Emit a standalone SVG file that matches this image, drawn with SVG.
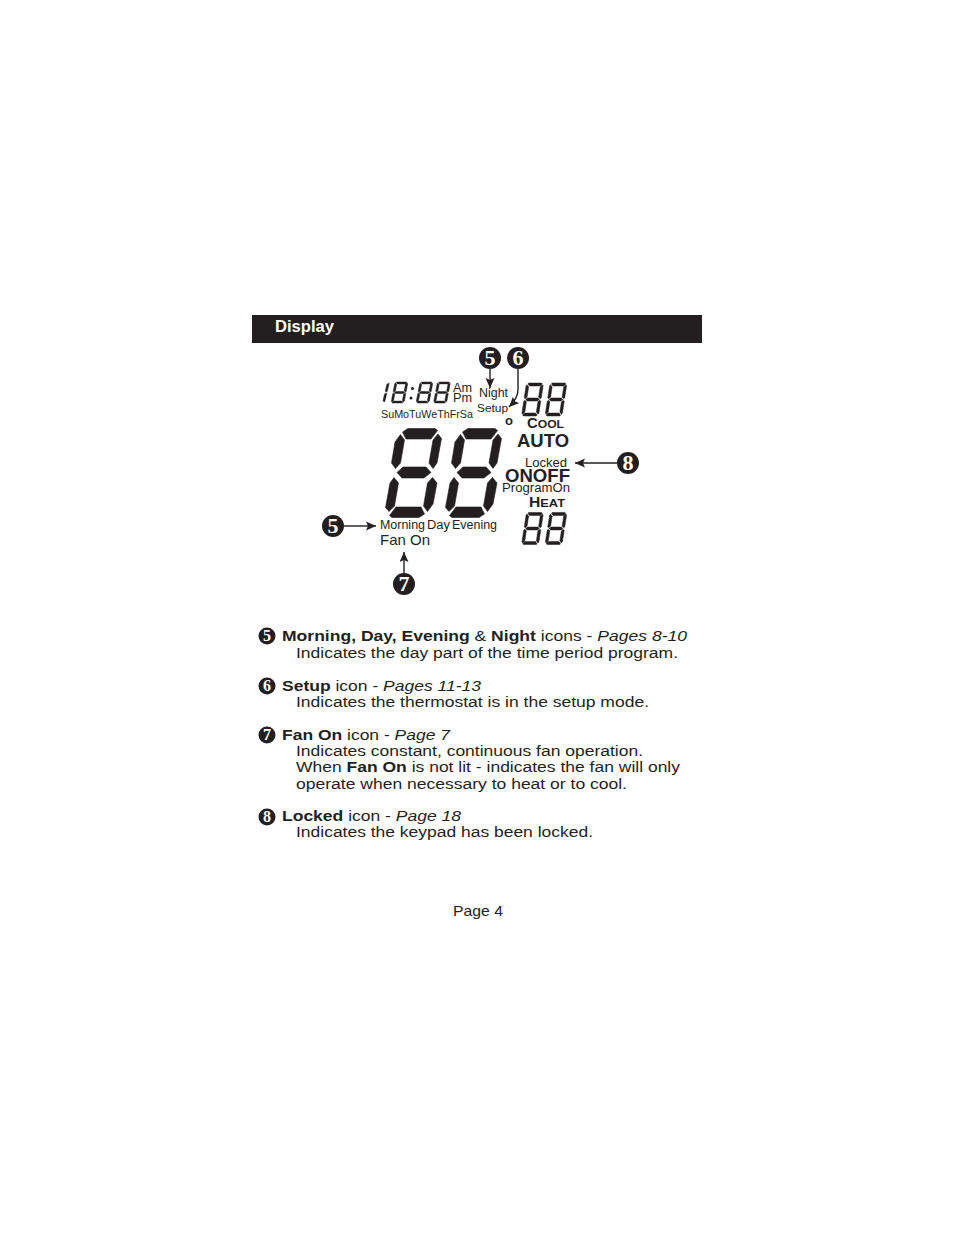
<svg xmlns="http://www.w3.org/2000/svg" xmlns:xlink="http://www.w3.org/1999/xlink" width="954" height="1235" viewBox="0 0 954 1235">
<style>
text{font-family:"Liberation Sans",Arial,sans-serif;fill:#231f20}
.body{font-size:15.200px}
.b{font-weight:bold}
.i{font-style:italic}
.lcd{font-size:12px}
.n{font-family:"Liberation Serif","Times New Roman",serif;fill:#fff;text-anchor:middle;font-weight:bold}
.big{font-size:22px}
.sm{font-size:16px}
.line{stroke:#231f20;stroke-width:1.4;fill:none;marker-end:url(#arrow)}
#thin polygon,#thin-one polygon{vector-effect:non-scaling-stroke;stroke:#231f20;stroke-width:.5}
</style>
<defs>
<marker id="arrow" markerUnits="userSpaceOnUse" markerWidth="12" markerHeight="10" refX="10" refY="4.5" orient="auto"><path d="M0 0L10 4.5L0 9L2 4.5Z" fill="#231f20"/></marker>
<g id="digit" fill="#231f20" stroke="#231f20" stroke-width=".6" stroke-linejoin="round">
<polygon points="408,428.500 435,428.500 437.500,430.500 431,439 406,439 402.500,432"/>
<polygon points="400.500,434.500 404.500,440 400.500,463 395.500,468.500 391.500,463 395,442"/>
<polygon points="438,434 441.500,438.500 437,463 433,468.500 429,463 433,440"/>
<polygon points="397,472.500 403,467 426,467 431,472.500 424,478 402,478"/>
<polygon points="389,511.500 385.500,507.500 390,483 394,477.500 398.500,483 394.500,506"/>
<polygon points="427.500,511.500 423.500,506 427.500,483 432.500,477.500 437,483 433,504"/>
<polygon points="419,517.500 392,517.500 389.500,515.500 396,507 421,507 424.500,514"/>
</g>
<g id="thin-one" fill="#231f20">
<polygon points="100,8 95,5 84,12 84,43 94,48 100,45"/>
<polygon points="100,55 94,52 84,57 84,88 95,95 100,92"/>
</g>
<g id="thin" fill="#231f20">
<use xlink:href="#thin-one"/>
<polygon points="12,0 88,0 94,3 84,9 20,9 10,3"/>
<polygon points="0,8 5,5 16,12 16,43 6,48 0,45"/>
<polygon points="10,50 20,45.500 80,45.500 90,50 80,54.500 20,54.500"/>
<polygon points="0,55 6,52 16,57 16,88 5,95 0,92"/>
<polygon points="6,97 16,91 80,91 90,97 88,100 12,100"/>
</g>
</defs>
<rect width="954" height="1235" fill="#fff"/>
<g id="header"><rect x="252" y="315" width="450" height="28" fill="#231f20"/>
<text x="275" y="332" class="b" style="font-size:16px;fill:#fff" textLength="59" lengthAdjust="spacingAndGlyphs">Display</text></g>
<g id="lcd-time">
<use xlink:href="#thin-one" transform="matrix(.13,0,-.05,.21,376.500,382)"/>
<use xlink:href="#thin" transform="matrix(.13,0,-.04,.21,395,382)"/>
<circle cx="412.500" cy="388.500" r="1.5" fill="#231f20"/><circle cx="411" cy="398" r="1.5" fill="#231f20"/>
<use xlink:href="#thin" transform="matrix(.13,0,-.04,.21,420,382)"/>
<use xlink:href="#thin" transform="matrix(.13,0,-.04,.21,437.500,382)"/>
<text x="453" y="392" class="lcd" textLength="19" lengthAdjust="spacingAndGlyphs">Am</text><text x="453" y="402" class="lcd" textLength="19" lengthAdjust="spacingAndGlyphs">Pm</text>
<text x="381" y="418" style="font-size:10.500px" textLength="92" lengthAdjust="spacingAndGlyphs">SuMoTuWeThFrSa</text>
</g>
<g id="lcd-top-right">
<use xlink:href="#thin" transform="matrix(.17,0,-.05,.33,526.500,383)"/>
<use xlink:href="#thin" transform="matrix(.17,0,-.05,.33,550,383)"/>
<text x="479" y="397" class="lcd" textLength="29" lengthAdjust="spacingAndGlyphs">Night</text>
<text x="477" y="412" style="font-size:11px" textLength="31" lengthAdjust="spacingAndGlyphs">Setup</text>
<text x="505" y="425" class="b" style="font-size:13px">o</text>
<text x="527" y="428" class="b" style="font-size:14px" textLength="37" lengthAdjust="spacingAndGlyphs">C<tspan style="font-size:11.500px">OOL</tspan></text>
<text x="517" y="447" class="b" style="font-size:18px" textLength="52" lengthAdjust="spacingAndGlyphs">AUTO</text>
<text x="525" y="467" class="lcd" textLength="42" lengthAdjust="spacingAndGlyphs">Locked</text>
<text x="505" y="482" class="b" style="font-size:18px" textLength="65" lengthAdjust="spacingAndGlyphs">ONOFF</text>
<text x="502" y="492" class="lcd" textLength="68" lengthAdjust="spacingAndGlyphs">ProgramOn</text>
<text x="529" y="507" class="b" style="font-size:14px" textLength="36" lengthAdjust="spacingAndGlyphs">H<tspan style="font-size:11.500px">EAT</tspan></text>
<use xlink:href="#thin" transform="matrix(.17,0,-.05,.32,526.500,512.500)"/>
<use xlink:href="#thin" transform="matrix(.17,0,-.05,.32,550,512.500)"/>
</g>
<g id="lcd-main">
<use xlink:href="#digit"/>
<use xlink:href="#digit" transform="translate(60 0)"/>
<text x="380" y="529" class="lcd" textLength="45" lengthAdjust="spacingAndGlyphs">Morning</text>
<text x="427" y="529" class="lcd" textLength="23" lengthAdjust="spacingAndGlyphs">Day</text>
<text x="452" y="529" class="lcd" textLength="45" lengthAdjust="spacingAndGlyphs">Evening</text>
<text x="380" y="545" style="font-size:14.500px" textLength="50" lengthAdjust="spacingAndGlyphs">Fan On</text>
</g>
<g id="connectors">
<path class="line" d="M490 369V388"/>
<path class="line" d="M518 369V390Q518 398 509 407"/>
<path class="line" d="M617 463H575"/>
<path class="line" d="M344 526H376"/>
<path class="line" d="M404 573V552"/>
</g>
<g id="callout-5a"><circle cx="490" cy="358" r="11" fill="#231f20"/><text x="490" y="365" class="n big">5</text></g>
<g id="callout-6"><circle cx="518" cy="358" r="11" fill="#231f20"/><text x="518" y="365" class="n big">6</text></g>
<g id="callout-8"><circle cx="628" cy="463" r="11" fill="#231f20"/><text x="628" y="470" class="n big">8</text></g>
<g id="callout-5b"><circle cx="333" cy="526" r="11" fill="#231f20"/><text x="333" y="533" class="n big">5</text></g>
<g id="callout-7"><circle cx="404" cy="584" r="11" fill="#231f20"/><text x="404" y="591" class="n big">7</text></g>
<g id="legend-5"><circle cx="267" cy="636" r="8.500" fill="#231f20"/><text x="267" y="641" class="n sm">5</text>
<text x="282" y="641" class="body" textLength="405" lengthAdjust="spacingAndGlyphs"><tspan class="b">Morning, Day, Evening</tspan> &amp; <tspan class="b">Night</tspan> icons - <tspan class="i">Pages 8-10</tspan></text>
<text x="296" y="658" class="body" textLength="382" lengthAdjust="spacingAndGlyphs">Indicates the day part of the time period program.</text></g>
<g id="legend-6"><circle cx="267" cy="686" r="8.500" fill="#231f20"/><text x="267" y="691" class="n sm">6</text>
<text x="282" y="691" class="body" textLength="199" lengthAdjust="spacingAndGlyphs"><tspan class="b">Setup</tspan> icon - <tspan class="i">Pages 11-13</tspan></text>
<text x="296" y="707" class="body" textLength="353" lengthAdjust="spacingAndGlyphs">Indicates the thermostat is in the setup mode.</text></g>
<g id="legend-7"><circle cx="267" cy="735" r="8.500" fill="#231f20"/><text x="267" y="740" class="n sm">7</text>
<text x="282" y="740" class="body" textLength="168" lengthAdjust="spacingAndGlyphs"><tspan class="b">Fan On</tspan> icon - <tspan class="i">Page 7</tspan></text>
<text x="296" y="756" class="body" textLength="347" lengthAdjust="spacingAndGlyphs">Indicates constant, continuous fan operation.</text>
<text x="296" y="772" class="body" textLength="384" lengthAdjust="spacingAndGlyphs">When <tspan class="b">Fan On</tspan> is not lit - indicates the fan will only</text>
<text x="296" y="789" class="body" textLength="331" lengthAdjust="spacingAndGlyphs">operate when necessary to heat or to cool.</text></g>
<g id="legend-8"><circle cx="267" cy="817" r="8.500" fill="#231f20"/><text x="267" y="822" class="n sm">8</text>
<text x="282" y="821" class="body" textLength="179" lengthAdjust="spacingAndGlyphs"><tspan class="b">Locked</tspan> icon - <tspan class="i">Page 18</tspan></text>
<text x="296" y="837" class="body" textLength="297" lengthAdjust="spacingAndGlyphs">Indicates the keypad has been locked.</text></g>
<g id="footer"><text x="453" y="916" style="font-size:14.500px" textLength="50" lengthAdjust="spacingAndGlyphs">Page 4</text></g>
</svg>
